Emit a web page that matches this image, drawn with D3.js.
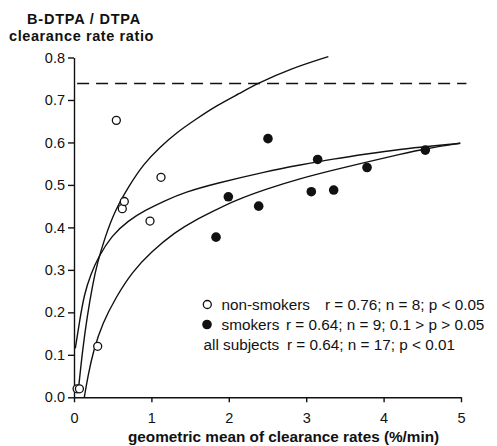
<!DOCTYPE html>
<html lang="en">
<head>
    <meta charset="UTF-8">
    <title>clearance-ratio</title>
    <script src="https://cdn.jsdelivr.net/npm/d3@7/dist/d3.min.js"></script>
    <style>
        body { margin: 0; background: #fff; }
        text { font-family: "Liberation Sans", Arial, Helvetica, sans-serif; fill: #111; }
    </style>
</head>
<body>
<div id="container"></div>
<script>
    // data
    const xTicks = [0, 1, 2, 3, 4, 5];
    const yTicks = [0, 0.1, 0.2, 0.3, 0.4, 0.5, 0.6, 0.7, 0.8];
    const referenceRatio = 0.739;

    const nonSmokers = [
        [0.04, 0.02], [0.07, 0.02], [0.306, 0.12], [0.547, 0.652],
        [0.624, 0.444], [0.65, 0.461], [0.982, 0.415], [1.124, 0.518]
    ];
    const smokers = [
        [1.835, 0.377], [1.994, 0.472], [2.386, 0.45], [2.506, 0.609],
        [3.066, 0.484], [3.148, 0.56], [3.355, 0.488], [3.786, 0.541], [4.539, 0.582]
    ];

    // fitted curves
    const nonSmokersFit = [
        [0.061, 0.025], [0.11, 0.11], [0.17, 0.19], [0.24, 0.265], [0.30, 0.315],
        [0.40, 0.377], [0.53, 0.44], [0.70, 0.495], [0.90, 0.55], [1.11, 0.589],
        [1.33, 0.624], [1.585, 0.656], [1.844, 0.687], [2.145, 0.716], [2.36, 0.738],
        [2.79, 0.773], [3.286, 0.802]
    ];
    const allFit = [
        [0.017, 0.115], [0.068, 0.175], [0.133, 0.244], [0.22, 0.291], [0.314, 0.33],
        [0.487, 0.381], [0.702, 0.416], [0.917, 0.44], [1.176, 0.463], [1.434, 0.483],
        [1.822, 0.503], [2.49, 0.532], [2.92, 0.547], [3.35, 0.561], [3.78, 0.573],
        [4.21, 0.584], [4.64, 0.592], [4.99, 0.598]
    ];
    const smokersFit = [
        [0.133, 0.0], [0.18, 0.05], [0.25, 0.11], [0.37, 0.175], [0.54, 0.235],
        [0.75, 0.295], [1.0, 0.343], [1.305, 0.389], [1.563, 0.417], [1.822, 0.44],
        [2.058, 0.462], [2.49, 0.491], [2.92, 0.515], [3.35, 0.535], [3.78, 0.554],
        [4.21, 0.572], [4.557, 0.586], [4.99, 0.598]
    ];

    const legendRows = [
        {label: "non-smokers", stats: "r = 0.76; n = 8; p < 0.05", mark: "open", statsX: 325},
        {label: "smokers", stats: "r = 0.64; n = 9; 0.1 > p > 0.05", mark: "filled", statsX: 286},
        {label: "all subjects", stats: "r = 0.64; n = 17; p < 0.01", mark: null, statsX: 287}
    ];

    const width = 497;
    const height = 446;
    const svg = d3.select("#container")
        .append("svg")
        .attr("width", width)
        .attr("height", height);

    const x = d3.scaleLinear().domain([0, 5]).range([74, 461]);
    const y = d3.scaleLinear().domain([0, 0.8]).range([397.3, 57.5]);

    // axes
    const xAxis = svg.append("g")
        .attr("transform", `translate(0, ${y(0)})`)
        .call(d3.axisBottom(x).tickValues(xTicks).tickFormat(d3.format("d")).tickSize(5).tickSizeOuter(0).tickPadding(10));
    const yAxis = svg.append("g")
        .attr("transform", `translate(${x(0)}, 0)`)
        .call(d3.axisLeft(y).tickValues(yTicks).tickFormat(d3.format(".1f")).tickSize(6).tickSizeOuter(0).tickPadding(3));
    [xAxis, yAxis].forEach(a => {
        a.selectAll("path, line").attr("stroke", "#111").attr("stroke-width", 1.4);
        a.selectAll("text").style("font-size", "14.5px").style("font-family", "Liberation Sans, Arial, sans-serif").attr("fill", "#111");
    });

    // dashed reference line
    svg.append("line")
        .attr("x1", x(0.04)).attr("x2", x(5.07))
        .attr("y1", y(referenceRatio)).attr("y2", y(referenceRatio))
        .attr("stroke", "#111")
        .attr("stroke-width", 1.5)
        .attr("stroke-dasharray", "12,7");

    // curves
    const line = d3.line()
        .x(d => x(d[0]))
        .y(d => y(d[1]))
        .curve(d3.curveBasis);
    [nonSmokersFit, allFit, smokersFit].forEach(c => {
        svg.append("path")
            .datum(c)
            .attr("d", line)
            .attr("fill", "none")
            .attr("stroke", "#111")
            .attr("stroke-width", 1.4);
    });

    // points
    svg.selectAll(".open")
        .data(nonSmokers)
        .enter().append("circle")
        .attr("cx", d => x(d[0]))
        .attr("cy", d => y(d[1]))
        .attr("r", 4)
        .attr("fill", "#fff")
        .attr("stroke", "#111")
        .attr("stroke-width", 1.3);
    svg.selectAll(".filled")
        .data(smokers)
        .enter().append("circle")
        .attr("cx", d => x(d[0]))
        .attr("cy", d => y(d[1]))
        .attr("r", 4.8)
        .attr("fill", "#111");

    // legend
    const legend = svg.append("g");
    legendRows.forEach((row, i) => {
        const by = 310 + i * 20;
        if (row.mark === "open") {
            legend.append("circle").attr("cx", 207.3).attr("cy", by - 5.5).attr("r", 4)
                .attr("fill", "#fff").attr("stroke", "#111").attr("stroke-width", 1.3);
        } else if (row.mark === "filled") {
            legend.append("circle").attr("cx", 207).attr("cy", by - 5.5).attr("r", 4.8).attr("fill", "#111");
        }
        legend.append("text")
            .attr("x", row.mark ? 221.5 : 203.5)
            .attr("y", by)
            .style("font-size", "15.3px")
            .text(row.label);
        legend.append("text")
            .attr("x", row.statsX)
            .attr("y", by)
            .style("font-size", "15.3px")
            .text(row.stats);
    });

    // titles
    svg.append("text")
        .attr("x", 27).attr("y", 24)
        .style("font-size", "14.5px").style("font-weight", "bold")
        .style("letter-spacing", "0.8px")
        .text("B-DTPA / DTPA");
    svg.append("text")
        .attr("x", 9).attr("y", 41)
        .style("font-size", "14.5px").style("font-weight", "bold")
        .style("letter-spacing", "0.6px")
        .text("clearance rate ratio");
    svg.append("text")
        .attr("x", 128).attr("y", 442)
        .style("font-size", "15.3px").style("font-weight", "bold")
        .text("geometric mean of clearance rates (%/min)");
</script>
</body>
</html>
